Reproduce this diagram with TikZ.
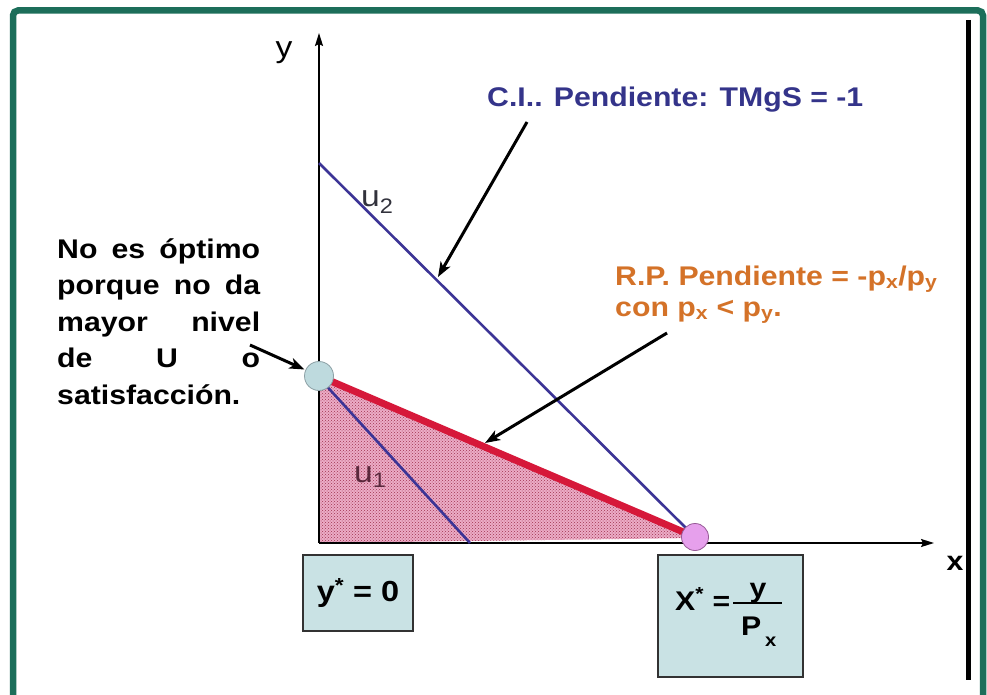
\documentclass[tikz,border=0pt]{standalone}
\usepackage{fontspec}
\setmainfont{Liberation Sans}
\newfontfamily\cf[FakeStretch=1.12]{Liberation Sans}
\usetikzlibrary{arrows.meta,patterns}
\newcommand\fsz[1]{\fontsize{#1}{#1}\selectfont}
\definecolor{framegreen}{RGB}{28,110,90}
\definecolor{icblue}{RGB}{60,52,150}
\definecolor{rpred}{RGB}{214,24,58}
\definecolor{orng}{RGB}{212,114,40}
\definecolor{boxfill}{RGB}{201,226,228}
\definecolor{lcfill}{RGB}{190,218,222}
\definecolor{rcfill}{RGB}{230,160,236}
\definecolor{shadepink}{RGB}{236,172,198}
\definecolor{dotc}{RGB}{160,50,80}
\definecolor{cidark}{RGB}{52,52,138}
\definecolor{uonecol}{RGB}{90,40,60}
\tikzset{
  btxt/.style={inner sep=0pt, font={\cf\bfseries\fsz{27}}},
  rtxt/.style={inner sep=0pt, font={\cf\fsz{30}}},
  axisline/.style={line width=1.8pt, -{Stealth[length=13pt,width=8pt,inset=2pt]}},
  uline/.style={icblue, line width=2.6pt},
  callout/.style={line width=3pt, -{Stealth[length=15pt,width=11pt,inset=4pt]}},
  valbox/.style={draw={rgb,255:red,50;green,50;blue,50}, line width=2pt, fill=boxfill, inner sep=0pt},
}
\begin{document}
\begin{tikzpicture}[x=1pt,y=-1pt]
\useasboundingbox (0,0) rectangle (987,695);
\begin{scope}
\clip (0,0) rectangle (987,695);
\fill[white] (0,0) rectangle (987,695);
\draw[framegreen, line width=6.5pt, rounded corners=5pt] (13,10.5) rectangle (983,760);
\end{scope}
% right black rule
\draw[line width=5pt] (968,20) -- (968,680);

% key points
\coordinate (A) at (319,378);
\coordinate (B) at (695,538);
\coordinate (O) at (319,543);
\coordinate (P1) at (319,376);
\coordinate (P2) at (695,537);
\coordinate (yTip) at (319,33);
\coordinate (xTip) at (934,543);
\coordinate (u1a) at (322,381);
\coordinate (u1b) at (470,543);
\coordinate (u2a) at (319,163);

% shaded budget set
\fill[shadepink] (A) -- (B) -- (O) -- cycle;
\fill[pattern=crosshatch dots, pattern color=dotc] (A) -- (B) -- (O) -- cycle;

% axes
\draw[axisline] (O) -- (yTip);
\draw[axisline] (O) -- (xTip);

% indifference curves and budget line
\draw[uline] (u1a) -- (u1b);
\draw[uline] (u2a) -- (P2);
\draw[rpred, line width=7pt] (P1) -- (P2);

% points
\node[circle, minimum size=29pt, inner sep=0pt, fill=lcfill, draw={rgb,255:red,140;green,160;blue,165}, line width=0.8pt] (lc) at (P1) {};
\node[circle, minimum size=27pt, inner sep=0pt, fill=rcfill, draw={rgb,255:red,150;green,90;blue,150}, line width=0.8pt] (rc) at (P2) {};

% axis labels
\node[rtxt] (ylab) at (284,53) {y};
\node[btxt] (xlab) at (955,563) {x};
\node[rtxt, anchor=base west, text={rgb,255:red,50;green,50;blue,60}] (u2l) at (361,207) {u\textsubscript{2}};
\node[rtxt, anchor=base west, text=uonecol] (u1l) at (354,482) {u\textsubscript{1}};

% callout texts
\node[btxt, anchor=base west, text=cidark] (ci) at (487,107) {C.I.. Pendiente: TMgS = -1};
\node[btxt, anchor=base west, text=orng] (rp1) at (615,285) {R.P. Pendiente = -p\textsubscript{x}/p\textsubscript{y}};
\node[btxt, anchor=base west, text=orng] (rp2) at (615,316) {con p\textsubscript{x} < p\textsubscript{y}.};

\node[btxt, anchor=base west] (l1) at (57,258) {\makebox[203pt][s]{No es óptimo}};
\node[btxt, anchor=base west] (l2) at (57,294.5) {\makebox[203pt][s]{porque no da}};
\node[btxt, anchor=base west] (l3) at (57,331) {\makebox[203pt][s]{mayor nivel}};
\node[btxt, anchor=base west] (l4) at (57,367.5) {\makebox[203pt][s]{de U o}};
\node[btxt, anchor=base west] (l5) at (57,404) {satisfacción.};

% callout arrows
\coordinate (ciT) at (527,122);
\coordinate (ciH) at (438,277);
\coordinate (rpT) at (667,333);
\coordinate (rpH) at (485,443);
\coordinate (noT) at (250,345);
\draw[callout] (ciT) -- (ciH);
\draw[callout] (rpT) -- (rpH);
\draw[callout, shorten >=1pt] (noT) -- (lc);

% value boxes
\node[valbox, minimum width=110pt, minimum height=76pt, font={\cf\bfseries\fsz{29}}] (ybox) at (358,593) {y\textsuperscript{*} = 0};
\node[valbox, minimum width=145pt, minimum height=122pt] (xbox) at (730.5,616) {};
\node[btxt, font={\cf\bfseries\fsz{27}}, anchor=base west] (xs) at (675,610) {X\textsuperscript{*} =};
\coordinate (fracL) at (733,603);
\coordinate (fracR) at (782,603);
\draw[line width=1.6pt] (fracL) -- (fracR);
\node[btxt, font={\cf\bfseries\fsz{27}}, anchor=base] (num) at (758,597) {y};
\node[btxt, font={\cf\bfseries\fsz{27}}, anchor=base west] (den) at (741,635) {P};
\node[btxt, font={\cf\bfseries\fsz{18}}, anchor=base west] (densub) at (765,646) {x};
\end{tikzpicture}
\end{document}
